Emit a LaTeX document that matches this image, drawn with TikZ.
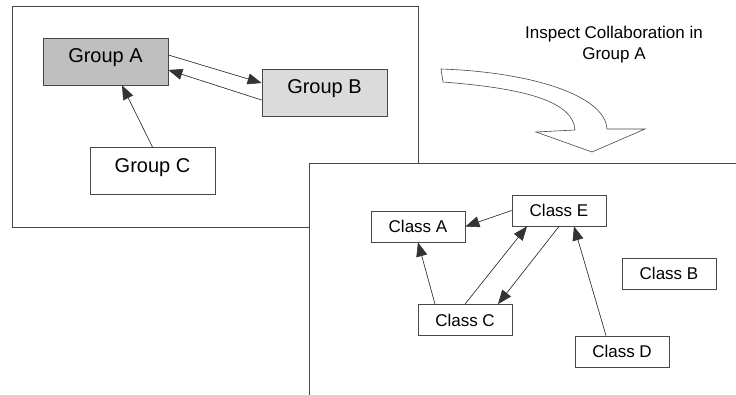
\documentclass[tikz,border=0pt]{standalone}
\usepackage{fontspec}
\setmainfont{Liberation Sans}
\usetikzlibrary{calc,positioning,arrows.meta}
\definecolor{groupdark}{gray}{0.75}
\definecolor{grouplight}{gray}{0.86}
\definecolor{linegray}{gray}{0.28}
\tikzset{
  group box/.style={draw=linegray,line width=0.8pt,inner sep=0pt,minimum width=125pt,minimum height=47pt,
    text height=0.75em,text depth=0.5em,font=\fontsize{20}{24}\selectfont},
  class box/.style={draw=linegray,line width=0.8pt,fill=white,inner sep=0pt,minimum width=94pt,minimum height=31pt,
    font=\fontsize{17}{20}\selectfont},
  link/.style={->,line width=0.6pt,draw=black!80,fill=black}
}

\begin{document}
\begin{tikzpicture}[x=1pt,y=-1pt,>={Triangle[length=14pt,width=11pt]}]
		\useasboundingbox (0,0) rectangle (736,395);
		\begin{scope}
			\draw[linegray,line width=0.8pt] (12,6) rectangle (418,227);
			\node(ga) [group box,fill=groupdark] at (105.5,61.5) {Group A};
			\node(gb) [group box,fill=grouplight] at (324.5,92.5) {Group B};
			\node(gc) [group box,fill=white] at (152.5,171) {Group C};
			\draw[link] ([yshift=6.5pt]ga.east) -- ([yshift=9.5pt]gb.west);
			\draw[link] ([yshift=-7.5pt]gb.west) -- ([yshift=-8.5pt]ga.east);
			\draw[link] (gc.north) -- ([xshift=16.5pt]ga.south);
		\end{scope}
		\draw[linegray,line width=0.6pt,fill=white] (441,69) .. controls (530,72) and (605,95) .. (607,129)
			-- (645,129) -- (592,152) -- (536,132) -- (575,130)
			.. controls (573,100) and (520,88) .. (443,82) -- cycle;
		\node(insp) [align=center,font=\fontsize{17}{21}\selectfont,anchor=base] at (614,60) {Inspect Collaboration in\\Group A};
		\begin{scope}
			\fill[white] (309,163) rectangle (740,400);
			\draw[linegray,line width=0.8pt] (309,400) -- (309,163) -- (740,163);
			\node(ca) [class box] at (418,226.5) {Class A};
			\node(ce) [class box] at (559,210.5) {Class E};
			\node(cb) [class box] at (669,273.5) {Class B};
			\node(cc) [class box] at (465,320) {Class C};
			\node(cd) [class box] at (622,351.5) {Class D};
			\draw[link] (ce.west) -- (ca.east);
			\draw[link] ([xshift=-30pt]cc.north) -- (ca.south);
			\draw[link] (cc.north) -- ([xshift=-32pt]ce.south);
			\draw[link] (ce.south) -- ([xshift=33pt]cc.north);
			\draw[link] ([xshift=-16pt]cd.north) -- ([xshift=15pt]ce.south);
		\end{scope}
	\end{tikzpicture}
\end{document}
